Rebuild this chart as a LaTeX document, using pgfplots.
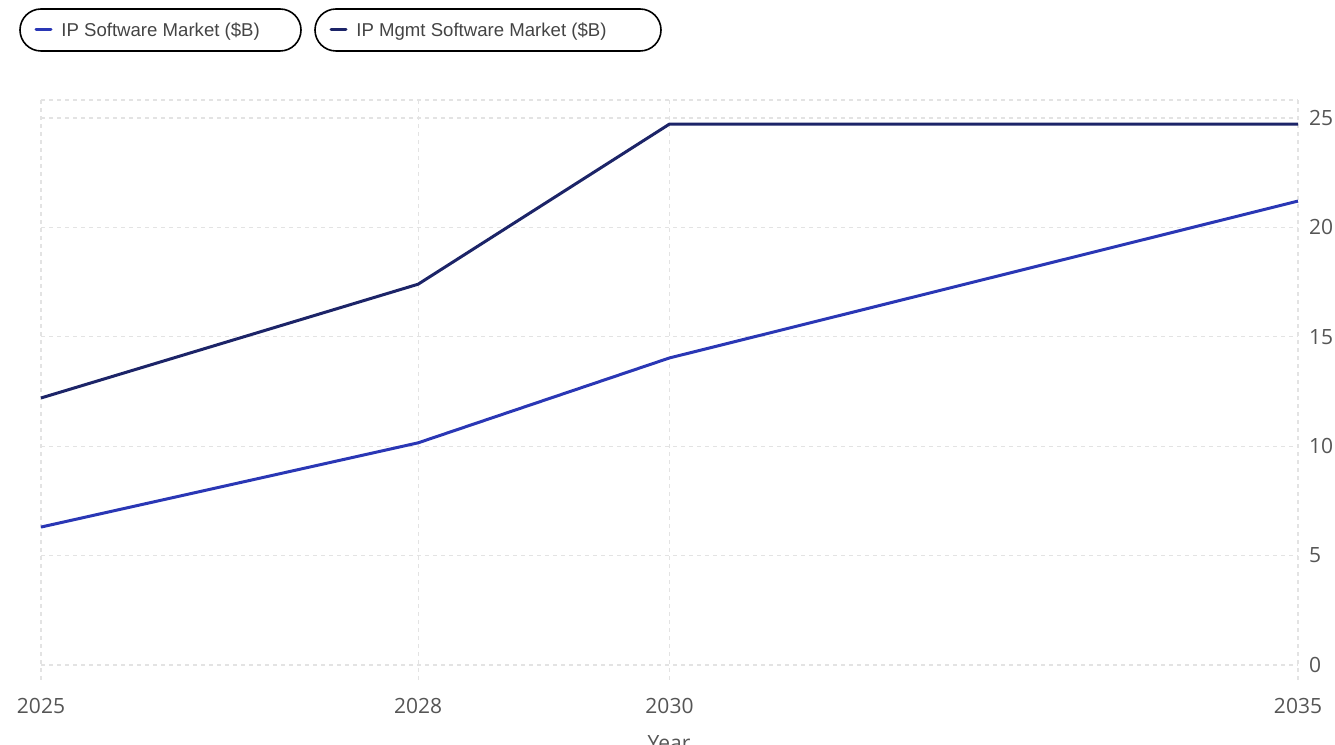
\documentclass[border=0pt]{standalone}
\usepackage{pgfplots}
\pgfplotsset{compat=1.18}
\usepackage{fontspec}
\setmainfont{Liberation Sans}
\newfontfamily\tickfont{Open Sans}
\definecolor{ipsw}{HTML}{2A37B5}
\definecolor{ipmg}{HTML}{1C2468}
\definecolor{gridc}{HTML}{E3E3E3}
\definecolor{txt}{HTML}{555555}
\definecolor{legtxt}{HTML}{444444}
\begin{document}
\begin{tikzpicture}
\useasboundingbox (0,0) rectangle (667.5pt,372.5pt);
\begin{axis}[
  at={(20.5pt,32.5pt)}, anchor=south west,
  scale only axis, width=628.5pt, height=290pt,
  xmin=2025, xmax=2035, ymin=-0.69, ymax=25.82,
  xtick={2025,2028,2030,2035},
  ytick={0,5,10,15,20,25},
  extra y ticks={25.82}, extra y tick labels={},
  yticklabel pos=right,
  axis line style={draw=none},
  tick style={draw=none},
  grid=major,
  grid style={gridc, line width=0.6pt, dash pattern=on 2pt off 2pt},
  /pgf/number format/1000 sep={},
  /pgf/number format/assume math mode=true,
  ticklabel style={font=\tickfont\fontsize{10.5}{12}\selectfont, text=txt},
  xticklabel style={yshift=-5.5pt},
  yticklabel style={xshift=2pt},
  clip=false,
]
\addplot[ipsw, line width=1.5pt, line join=round] coordinates {(2025,6.3) (2028,10.15) (2030,14.03) (2035,21.2)};
\addplot[ipmg, line width=1.5pt, line join=round] coordinates {(2025,12.2) (2028,17.4) (2030,24.72) (2035,24.72)};
\end{axis}
\begin{scope}[x=0.5pt,y=-0.5pt,yshift=372.5pt]
\draw[black, line width=0.8pt, rounded corners=10.5pt] (20,9) rectangle (301,51);
\draw[black, line width=0.8pt, rounded corners=10.5pt] (315,9) rectangle (661,51);
\draw[ipsw, line width=1.5pt, line cap=round] (36,30) -- (51,30);
\draw[ipmg, line width=1.5pt, line cap=round] (331,30) -- (346,30);
\node[anchor=base west, inner sep=0pt, text=legtxt, font=\fontsize{9.3}{11}\selectfont] at (61,37) {IP Software Market (\$B)};
\node[anchor=base west, inner sep=0pt, text=legtxt, font=\fontsize{9.3}{11}\selectfont] at (356,37) {IP Mgmt Software Market (\$B)};
\node[anchor=north, inner sep=0pt, text=txt, font=\tickfont\fontsize{10.5}{12}\selectfont] at (669,735) {Year};
\end{scope}
\end{tikzpicture}
\end{document}
